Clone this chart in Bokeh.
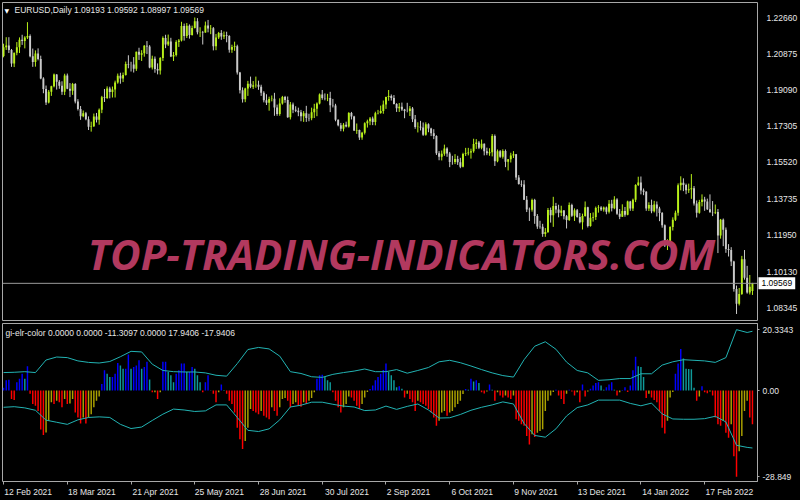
import pandas as pd
from bokeh.plotting import figure
from bokeh.layouts import column
from bokeh.models import (Range1d, LinearAxis, FixedTicker, PrintfTickFormatter,
                          Span, Label, ColumnDataSource)
from bokeh.embed import file_html
from bokeh.resources import INLINE

# ---------------- data ----------------
symbol = "EURUSD"
timeframe = "Daily"
first_date = "2021-02-12"

open_ = [
 1.2077,1.2119,1.2128,1.2106,1.2039,1.2092,1.2119,1.2156,1.2150,1.2168,
 1.2175,1.2075,1.2047,1.2089,1.2062,1.1966,1.1914,1.1847,1.1900,1.1928,
 1.1985,1.1950,1.1930,1.1900,1.1980,1.1915,1.1905,1.1938,1.1852,1.1815,
 1.1780,1.1795,1.1765,1.1728,1.1730,1.1779,1.1762,1.1812,1.1873,1.1869,
 1.1917,1.1899,1.1911,1.1946,1.1979,1.1966,1.1983,1.2037,1.2035,1.2034,
 1.2014,1.2097,1.2082,1.2090,1.2127,1.2123,1.2020,1.2063,1.2013,1.2005,
 1.2066,1.2165,1.2133,1.2148,1.2074,1.2081,1.2145,1.2153,1.2224,1.2175,
 1.2226,1.2180,1.2214,1.2248,1.2193,1.2195,1.2192,1.2227,1.2212,1.2213,
 1.2125,1.2167,1.2190,1.2173,1.2179,1.2175,1.2107,1.2121,1.2125,1.1995,
 1.1908,1.1864,1.1917,1.1940,1.1925,1.1932,1.1935,1.1925,1.1896,1.1858,
 1.1846,1.1865,1.1866,1.1823,1.1791,1.1843,1.1875,1.1860,1.1775,1.1837,
 1.1812,1.1807,1.1800,1.1780,1.1794,1.1771,1.1770,1.1800,1.1817,1.1843,
 1.1887,1.1870,1.1868,1.1870,1.1834,1.1833,1.1762,1.1735,1.1718,1.1738,
 1.1729,1.1796,1.1778,1.1710,1.1712,1.1675,1.1698,1.1745,1.1755,1.1769,
 1.1751,1.1794,1.1796,1.1806,1.1837,1.1875,1.1880,1.1870,1.1840,1.1819,
 1.1826,1.1813,1.1806,1.1805,1.1818,1.1765,1.1727,1.1728,1.1724,1.1689,
 1.1740,1.1719,1.1696,1.1683,1.1597,1.1580,1.1595,1.1621,1.1596,1.1555,
 1.1554,1.1569,1.1553,1.1531,1.1594,1.1597,1.1601,1.1607,1.1643,1.1650,
 1.1624,1.1644,1.1607,1.1598,1.1603,1.1682,1.1558,1.1607,1.1580,1.1609,
 1.1556,1.1568,1.1587,1.1592,1.1478,1.1446,1.1444,1.1368,1.1320,1.1319,
 1.1367,1.1289,1.1237,1.1235,1.1200,1.1210,1.1318,1.1292,1.1338,1.1320,
 1.1304,1.1316,1.1287,1.1269,1.1343,1.1290,1.1317,1.1283,1.1258,1.1288,
 1.1331,1.1239,1.1280,1.1283,1.1328,1.1330,1.1320,1.1330,1.1309,1.1349,
 1.1327,1.1370,1.1300,1.1285,1.1313,1.1295,1.1360,1.1325,1.1368,1.1441,
 1.1454,1.1414,1.1408,1.1325,1.1343,1.1312,1.1345,1.1326,1.1303,1.1243,
 1.1144,1.1145,1.1234,1.1270,1.1305,1.1440,1.1452,1.1441,1.1415,1.1420,
 1.1425,1.1350,1.1305,1.1358,1.1370,1.1360,1.1322,1.1307,1.1306,1.1308,
 1.1193,1.1270,1.1221,1.1126,1.1121,1.1064,1.0929,1.0856,1.0904,1.1075,
 1.0985,1.0912,1.09193]
high = [
 1.2137,1.2169,1.2169,1.2111,1.2093,1.2145,1.2168,1.2181,1.2174,1.2243,
 1.2183,1.2113,1.2104,1.2114,1.2078,1.1972,1.1931,1.1909,1.1930,1.1990,
 1.1987,1.1958,1.1952,1.1989,1.1990,1.1943,1.1944,1.1943,1.1864,1.1830,
 1.1808,1.1801,1.1779,1.1753,1.1793,1.1796,1.1818,1.1880,1.1914,1.1927,
 1.1925,1.1926,1.1955,1.1990,1.1994,1.1995,1.2049,1.2080,1.2048,1.2071,
 1.2098,1.2117,1.2105,1.2130,1.2150,1.2130,1.2078,1.2074,1.2040,1.2071,
 1.2173,1.2181,1.2182,1.2166,1.2096,1.2154,1.2160,1.2245,1.2236,1.2239,
 1.2232,1.2226,1.2266,1.2263,1.2218,1.2200,1.2246,1.2254,1.2229,1.2219,
 1.2185,1.2195,1.2204,1.2197,1.2196,1.2179,1.2132,1.2147,1.2132,1.1998,
 1.1922,1.1920,1.1954,1.1975,1.1953,1.1975,1.1955,1.1935,1.1903,1.1888,
 1.1876,1.1882,1.1895,1.1837,1.1868,1.1880,1.1880,1.1877,1.1850,1.1847,
 1.1829,1.1822,1.1811,1.1805,1.1831,1.1792,1.1822,1.1841,1.1848,1.1892,
 1.1909,1.1892,1.1890,1.1900,1.1865,1.1841,1.1764,1.1747,1.1746,1.1753,
 1.1800,1.1801,1.1782,1.1744,1.1714,1.1703,1.1750,1.1763,1.1776,1.1778,
 1.1802,1.1811,1.1832,1.1857,1.1876,1.1909,1.1887,1.1884,1.1844,1.1845,
 1.1847,1.1816,1.1846,1.1830,1.1825,1.1786,1.1750,1.1757,1.1749,1.1750,
 1.1745,1.1723,1.1716,1.1686,1.1608,1.1611,1.1640,1.1627,1.1604,1.1585,
 1.1593,1.1585,1.1575,1.1600,1.1624,1.1624,1.1620,1.1669,1.1667,1.1658,
 1.1665,1.1646,1.1625,1.1622,1.1692,1.1690,1.1616,1.1613,1.1617,1.1616,
 1.1569,1.1600,1.1608,1.1594,1.1490,1.1464,1.1465,1.1387,1.1330,1.1374,
 1.1373,1.1298,1.1265,1.1250,1.1229,1.1328,1.1330,1.1383,1.1353,1.1344,
 1.1339,1.1318,1.1293,1.1355,1.1349,1.1326,1.1323,1.1303,1.1300,1.1360,
 1.1334,1.1303,1.1306,1.1335,1.1342,1.1337,1.1335,1.1335,1.1367,1.1368,
 1.1386,1.1376,1.1323,1.1346,1.1333,1.1364,1.1363,1.1374,1.1445,1.1482,
 1.1483,1.1424,1.1411,1.1356,1.1369,1.1363,1.1360,1.1334,1.1308,1.1247,
 1.1174,1.1238,1.1282,1.1315,1.1449,1.1484,1.1474,1.1448,1.1448,1.1495,
 1.1436,1.1365,1.1368,1.1395,1.1383,1.1374,1.1395,1.1362,1.1345,1.1323,
 1.1274,1.1276,1.1232,1.1150,1.1135,1.1068,1.0946,1.0934,1.1092,1.1121,
 1.1043,1.0998,1.09592]
low = [
 1.2070,1.2106,1.2091,1.2023,1.2022,1.2080,1.2091,1.2131,1.2114,1.2160,
 1.2070,1.2023,1.2024,1.2055,1.1962,1.1893,1.1835,1.1843,1.1880,1.1922,
 1.1911,1.1915,1.1885,1.1884,1.1913,1.1874,1.1885,1.1843,1.1808,1.1762,
 1.1775,1.1760,1.1712,1.1704,1.1727,1.1749,1.1738,1.1795,1.1850,1.1865,
 1.1868,1.1872,1.1872,1.1940,1.1940,1.1948,1.1980,1.2016,1.2000,1.1995,
 1.2003,1.2057,1.2052,1.2073,1.2086,1.2016,1.2010,1.1994,1.1986,1.1985,
 1.2052,1.2115,1.2126,1.2071,1.2052,1.2074,1.2121,1.2148,1.2152,1.2165,
 1.2162,1.2177,1.2212,1.2183,1.2170,1.2133,1.2191,1.2193,1.2184,1.2104,
 1.2105,1.2160,1.2156,1.2160,1.2144,1.2093,1.2092,1.2102,1.1985,1.1892,
 1.1847,1.1849,1.1880,1.1918,1.1914,1.1920,1.1910,1.1880,1.1848,1.1835,
 1.1807,1.1853,1.1782,1.1782,1.1782,1.1837,1.1846,1.1772,1.1764,1.1795,
 1.1800,1.1780,1.1755,1.1752,1.1752,1.1755,1.1760,1.1771,1.1780,1.1838,
 1.1861,1.1858,1.1854,1.1800,1.1823,1.1755,1.1730,1.1706,1.1705,1.1725,
 1.1724,1.1764,1.1707,1.1693,1.1663,1.1664,1.1690,1.1724,1.1736,1.1736,
 1.1735,1.1789,1.1792,1.1792,1.1816,1.1856,1.1857,1.1838,1.1801,1.1801,
 1.1806,1.1770,1.1799,1.1781,1.1751,1.1718,1.1700,1.1710,1.1683,1.1684,
 1.1701,1.1682,1.1667,1.1589,1.1563,1.1562,1.1585,1.1580,1.1529,1.1541,
 1.1544,1.1540,1.1524,1.1528,1.1584,1.1587,1.1571,1.1600,1.1619,1.1618,
 1.1617,1.1587,1.1588,1.1585,1.1582,1.1535,1.1553,1.1575,1.1571,1.1529,
 1.1513,1.1552,1.1574,1.1466,1.1443,1.1432,1.1367,1.1308,1.1264,1.1310,
 1.1250,1.1225,1.1226,1.1186,1.1186,1.1205,1.1256,1.1235,1.1302,1.1282,
 1.1288,1.1272,1.1227,1.1264,1.1284,1.1264,1.1280,1.1252,1.1222,1.1285,
 1.1232,1.1236,1.1261,1.1269,1.1305,1.1313,1.1310,1.1297,1.1301,1.1311,
 1.1322,1.1294,1.1273,1.1284,1.1285,1.1292,1.1314,1.1313,1.1357,1.1436,
 1.1395,1.1391,1.1314,1.1313,1.1302,1.1306,1.1286,1.1263,1.1231,1.1136,
 1.1121,1.1140,1.1217,1.1264,1.1290,1.1415,1.1411,1.1396,1.1402,1.1373,
 1.1340,1.1281,1.1300,1.1336,1.1314,1.1318,1.1305,1.1288,1.1298,1.1106,
 1.1177,1.1140,1.1107,1.1089,1.1042,1.0916,1.0806,1.0848,1.0900,1.0975,
 1.0906,1.0902,1.08997]
close = [
 1.2119,1.2128,1.2106,1.2039,1.2092,1.2119,1.2156,1.2150,1.2168,1.2175,
 1.2075,1.2047,1.2089,1.2062,1.1966,1.1914,1.1847,1.1900,1.1928,1.1985,
 1.1950,1.1930,1.1900,1.1980,1.1915,1.1905,1.1938,1.1852,1.1815,1.1780,
 1.1795,1.1765,1.1728,1.1730,1.1779,1.1762,1.1812,1.1873,1.1869,1.1917,
 1.1899,1.1911,1.1946,1.1979,1.1966,1.1983,1.2037,1.2035,1.2034,1.2014,
 1.2097,1.2082,1.2090,1.2127,1.2123,1.2020,1.2063,1.2013,1.2005,1.2066,
 1.2165,1.2133,1.2148,1.2074,1.2081,1.2145,1.2153,1.2224,1.2175,1.2226,
 1.2180,1.2214,1.2248,1.2193,1.2195,1.2192,1.2227,1.2212,1.2213,1.2125,
 1.2167,1.2190,1.2173,1.2179,1.2175,1.2107,1.2121,1.2125,1.1995,1.1908,
 1.1864,1.1917,1.1940,1.1925,1.1932,1.1935,1.1925,1.1896,1.1858,1.1846,
 1.1865,1.1866,1.1823,1.1791,1.1843,1.1875,1.1860,1.1775,1.1837,1.1812,
 1.1807,1.1800,1.1780,1.1794,1.1771,1.1770,1.1800,1.1817,1.1843,1.1887,
 1.1870,1.1868,1.1870,1.1834,1.1833,1.1762,1.1735,1.1718,1.1738,1.1729,
 1.1796,1.1778,1.1710,1.1712,1.1675,1.1698,1.1745,1.1755,1.1769,1.1751,
 1.1794,1.1796,1.1806,1.1837,1.1875,1.1880,1.1870,1.1840,1.1819,1.1826,
 1.1813,1.1806,1.1805,1.1818,1.1765,1.1727,1.1728,1.1724,1.1689,1.1740,
 1.1719,1.1696,1.1683,1.1597,1.1580,1.1595,1.1621,1.1596,1.1555,1.1554,
 1.1569,1.1553,1.1531,1.1594,1.1597,1.1601,1.1607,1.1643,1.1650,1.1624,
 1.1644,1.1607,1.1598,1.1603,1.1682,1.1558,1.1607,1.1580,1.1609,1.1556,
 1.1568,1.1587,1.1592,1.1478,1.1446,1.1444,1.1368,1.1320,1.1319,1.1367,
 1.1289,1.1237,1.1235,1.1200,1.1210,1.1318,1.1292,1.1338,1.1320,1.1304,
 1.1316,1.1287,1.1269,1.1343,1.1290,1.1317,1.1283,1.1258,1.1288,1.1331,
 1.1239,1.1280,1.1283,1.1328,1.1330,1.1320,1.1330,1.1309,1.1349,1.1327,
 1.1370,1.1300,1.1285,1.1313,1.1295,1.1360,1.1325,1.1368,1.1441,1.1454,
 1.1414,1.1408,1.1325,1.1343,1.1312,1.1345,1.1326,1.1303,1.1243,1.1144,
 1.1145,1.1234,1.1270,1.1305,1.1440,1.1452,1.1441,1.1415,1.1420,1.1425,
 1.1350,1.1305,1.1358,1.1370,1.1360,1.1322,1.1307,1.1306,1.1308,1.1193,
 1.1270,1.1221,1.1126,1.1121,1.1064,1.0929,1.0856,1.0904,1.1075,1.0985,
 1.0912,1.0940,1.09569]

price_ticks = [1.08345, 1.10130, 1.11950, 1.13735, 1.15520, 1.17305, 1.19090, 1.20875, 1.22660]

date_labels = ["12 Feb 2021", "18 Mar 2021", "21 Apr 2021", "25 May 2021", "28 Jun 2021",
               "30 Jul 2021", "2 Sep 2021", "6 Oct 2021", "9 Nov 2021", "13 Dec 2021",
               "14 Jan 2022", "17 Feb 2022"]

indicator_name = "gi-elr-color"
indicator_buffers = ["0.0000", "0.0000", "-11.3097", "0.0000", "17.9406", "-17.9406"]

hist = [
 0.9,3.4,3.6,-2.8,-3.2,2.8,3.9,5.6,3.9,8.1,
 -1.1,-4.5,-5.1,-6.8,-13.0,-14.9,-14.0,-10.2,-3.9,-4.5,
 -3.4,-3.9,-5.6,-2.8,-4.5,-4.3,-2.8,-7.3,-9.0,-11.0,
 -9.0,-11.0,-9.0,-7.9,-5.6,-3.4,-2.0,2.2,6.8,5.6,
 4.5,4.5,5.6,9.2,8.4,7.3,7.3,12.0,7.3,7.9,
 8.4,10.1,7.3,7.9,9.6,3.7,-0.6,-0.6,-2.8,-0.6,
 9.6,9.6,6.2,5.1,2.8,5.6,6.8,9.0,9.0,6.2,
 6.2,7.9,7.3,5.1,2.8,-0.6,2.8,5.1,0.1,-1.1,
 -3.9,-0.6,2.0,0.2,-1.1,-3.4,-4.5,-7.3,-12.4,-16.3,
 -19.5,-16.9,-12.4,-6.2,-6.8,-7.3,-7.9,-6.8,-8.4,-9.0,
 -9.6,-5.6,-6.8,-8.4,-5.6,-2.8,-2.5,-3.4,-5.6,-4.5,
 -3.9,-5.1,-5.4,-3.9,-4.5,-3.4,-2.5,-0.6,3.9,5.1,
 5.3,4.5,3.4,2.8,-0.6,-3.4,-5.6,-7.3,-5.6,-4.5,
 -2.0,-2.3,-3.4,-5.1,-6.2,-4.5,-2.3,-0.5,0.5,1.7,
 3.4,4.5,5.6,6.9,9.0,6.2,5.1,3.4,1.1,1.4,
 0.6,-2.3,-1.1,-2.8,-3.9,-6.8,-3.4,-3.9,-4.5,-5.1,
 -6.2,-7.3,-9.0,-11.8,-10.1,-7.3,-6.8,-8.4,-7.3,-6.8,
 -5.6,-4.5,-3.4,-1.2,0.5,0.3,3.9,3.0,3.4,2.5,
 -0.6,-1.0,-0.3,2.0,0.3,-3.4,-0.6,-1.7,-2.3,-1.7,
 -2.3,-2.8,-1.7,-9.6,-10.1,-11.3,-11.8,-15.2,-18.0,-14.6,
 -15.5,-14.1,-13.5,-12.9,-6.8,-3.4,-1.7,-0.5,0.3,-1.7,
 -2.8,-4.5,-1.1,0.3,-0.3,-1.7,-0.6,-3.9,2.0,-2.0,
 -0.3,0.6,1.7,2.5,2.8,1.7,0.3,1.1,2.0,2.8,
 0.3,-1.7,-0.6,0.2,1.1,-0.5,1.7,6.8,11.3,8.1,
 7.9,4.5,-2.5,-1.1,-2.3,-3.2,-3.9,-6.8,-12.4,-14.4,
 -10.1,-2.3,-0.5,5.6,9.0,13.9,10.7,7.3,7.2,7.1,
 0.9,-3.4,-2.0,1.4,-0.6,-0.9,-0.3,-1.7,-9.0,-11.3,
 -11.8,-10.1,-14.1,-15.8,-11.3,-22.0,-28.849,-20.3,-15.2,-6.8,
 -3.4,-9.0,-11.3097]

band_step = 4  # band values read every 4th bar, plus the last bar
upper_band = [
 6.0,6.1,6.3,6.0,10.2,11.2,11.0,9.9,9.4,9.2,9.7,11.3,13.1,12.9,8.8,6.7,6.3,6.2,
 6.2,5.9,5.1,4.8,9.0,13.7,14.4,13.9,11.5,6.3,5.7,4.6,4.4,5.4,6.0,6.5,7.2,6.3,
 6.3,7.0,5.8,6.7,7.7,9.6,10.1,9.3,8.2,7.0,5.9,5.0,4.5,10.3,14.8,16.3,13.8,9.5,
 6.7,5.9,3.4,3.6,4.0,4.0,5.6,5.6,8.5,9.6,10.3,10.1,9.9,9.4,11.0,20.3343,19.4,19.8]
lower_band = [
 -5.6,-5.4,-5.8,-6.6,-9.9,-10.6,-11.3,-9.8,-9.0,-8.8,-9.0,-11.3,-12.7,-12.2,-10.0,-7.9,-6.2,-6.5,
 -7.0,-6.8,-4.8,-4.8,-9.0,-13.3,-13.7,-12.8,-9.8,-5.5,-4.9,-3.9,-3.9,-4.6,-5.2,-5.5,-6.7,-6.5,
 -5.2,-6.3,-5.3,-4.5,-6.5,-9.2,-9.1,-8.0,-6.6,-5.6,-4.8,-3.8,-4.5,-11.0,-15.0,-15.6,-12.8,-8.5,
 -5.7,-4.8,-3.2,-3.2,-3.2,-4.3,-5.1,-4.2,-7.8,-9.5,-9.6,-9.6,-9.4,-8.6,-10.5,-18.3,-19.0,-19.2]

indicator_ticks = [20.3343, 0, -28.849]
indicator_tick_text = ["20.3343", "0.00", "-28.849"]
watermark = "TOP-TRADING-INDICATORS.COM"

# ---------------- styling ----------------
FONT = "Liberation Sans"
FS = "8.5px"
TXT = "#e6e6e6"
FRAME = "#a8a8a8"
BULL = "#b8f01a"
BEAR = "#cacaca"
W, FRAME_W, LB, RB = 800, 755, 2, 43
H1_FRAME, H2_FRAME = 318, 158

n = len(close)
dates = pd.bdate_range(first_date, periods=n)
xs = list(range(n))
x_range = Range1d(-0.4, 283.9)
px_per_bar = FRAME_W / (283.9 + 0.4)

# ---------------- price panel ----------------
p1 = figure(width=W, height=2 + H1_FRAME + 1, x_range=x_range,
            y_range=Range1d(1.07739, 1.23399), x_axis_type=None, y_axis_type=None,
            output_backend="svg", toolbar_location=None,
            background_fill_color="black", border_fill_color="black",
            min_border_left=LB, min_border_right=RB, min_border_top=2, min_border_bottom=1)
p1.outline_line_color = FRAME
p1.xgrid.visible = False
p1.ygrid.visible = False

up = [c > o for o, c in zip(open_, close)]
src = ColumnDataSource(dict(
    x=xs, o=open_, h=high, l=low, c=close,
    top=[max(o, c) for o, c in zip(open_, close)],
    bot=[min(o, c) for o, c in zip(open_, close)],
    col=[BULL if u else BEAR for u in up]))
p1.segment(x0="x", y0="l", x1="x", y1="h", line_color="col", line_width=1, source=src)
p1.vbar(x="x", top="top", bottom="bot", width=0.72, fill_color="col", line_color=None, source=src)

p1.add_layout(Span(location=close[-1], dimension="width", line_color="#9a9a9a", line_width=1))

# current-price box in the right side panel (next to the frame)
p1.add_layout(Label(x=1, y=close[-1], x_units="screen", y_units="data",
                    text=f"{close[-1]:.5f}", text_font=FONT, text_font_size=FS,
                    text_color="black", text_align="left", text_baseline="middle",
                    background_fill_color="white", padding=3), "right")

# price scale: outer panel, labels pulled back inward over the box panel
ax1 = LinearAxis(ticker=FixedTicker(ticks=price_ticks), formatter=PrintfTickFormatter(format="%.5f"),
                 major_tick_in=0, major_tick_out=0, major_tick_line_color=None,
                 minor_tick_line_color=None, axis_line_color=None, major_label_standoff=-28,
                 major_label_text_font=FONT, major_label_text_font_size=FS,
                 major_label_text_color=TXT)
p1.add_layout(ax1, "right")

p1.add_layout(Label(x=2, y=H1_FRAME - 8, x_units="screen", y_units="screen", text="\u25bc",
                    text_font="DejaVu Sans", text_font_size="6px", text_color="white",
                    text_baseline="middle"))
p1.add_layout(Label(x=12, y=H1_FRAME - 7, x_units="screen", y_units="screen",
                    text=f"{symbol},{timeframe}  {open_[-1]:.5f} {high[-1]:.5f} {low[-1]:.5f} {close[-1]:.5f}",
                    text_font=FONT, text_font_size=FS, text_color=TXT, text_baseline="middle"))

p1.add_layout(Label(x=399, y=67, x_units="screen", y_units="screen", text=watermark,
                    text_font="Open Sans", text_font_style="bold italic", text_font_size="42px",
                    text_color="#b2395f", text_align="center", text_baseline="middle"))

# ---------------- indicator panel ----------------
p2 = figure(width=W, height=2 + H2_FRAME + 19, x_range=x_range,
            y_range=Range1d(-30.4, 22.4), x_axis_type=None, y_axis_type=None,
            output_backend="svg", toolbar_location=None,
            background_fill_color="black", border_fill_color="black",
            min_border_left=LB, min_border_right=RB, min_border_top=2, min_border_bottom=19)
p2.outline_line_color = FRAME
p2.xgrid.visible = False
p2.ygrid.visible = False

cols = []
prev = 0.0
for v in hist:
    if v >= 0:
        cols.append("#0000ff" if v >= prev else "#0f9a9a")
    else:
        cols.append("#ff0000" if v < prev else "#aca200")
    prev = v
hsrc = ColumnDataSource(dict(x=xs, top=hist, col=cols))
p2.vbar(x="x", top="top", bottom=0, width=0.55, fill_color="col", line_color=None, source=hsrc)

band_x = list(range(0, n, band_step)) + [n - 1]
p2.line(band_x, upper_band, line_color="#22b3b3", line_width=1)
p2.line(band_x, lower_band, line_color="#22b3b3", line_width=1)

ax2 = LinearAxis(ticker=FixedTicker(ticks=indicator_ticks),
                 major_label_overrides=dict(zip(indicator_ticks, indicator_tick_text)),
                 major_tick_in=0, major_tick_out=2, major_tick_line_color=FRAME,
                 minor_tick_line_color=None, axis_line_color=FRAME, major_label_standoff=3,
                 major_label_text_font=FONT, major_label_text_font_size=FS,
                 major_label_text_color=TXT)
p2.add_layout(ax2, "right")

label_pos = [int(dates.get_loc(pd.to_datetime(s, format="%d %b %Y"))) for s in date_labels]
tick_axis = LinearAxis(ticker=FixedTicker(ticks=label_pos),
                       major_label_overrides={pp: "" for pp in label_pos},
                       major_tick_in=0, major_tick_out=3, major_tick_line_color=FRAME,
                       minor_tick_line_color=None, axis_line_color=None,
                       major_label_standoff=0, major_label_text_font_size="1px")
p2.add_layout(tick_axis, "below")
centers = [round(pp + (len(s) * 4.3 / 2 + 1) / px_per_bar, 3) for pp, s in zip(label_pos, date_labels)]
lab_axis = LinearAxis(ticker=FixedTicker(ticks=centers),
                      major_label_overrides=dict(zip(centers, date_labels)),
                      major_tick_in=0, major_tick_out=0, major_tick_line_color=None,
                      minor_tick_line_color=None, axis_line_color=None, major_label_standoff=2,
                      major_label_text_font=FONT, major_label_text_font_size=FS,
                      major_label_text_color=TXT)
p2.add_layout(lab_axis, "below")

p2.add_layout(Label(x=3, y=H2_FRAME - 9, x_units="screen", y_units="screen",
                    text=indicator_name + " " + " ".join(indicator_buffers),
                    text_font=FONT, text_font_size=FS, text_color=TXT, text_baseline="middle"))

layout = column(p1, p2, spacing=0, background="black")
open("out.html", "w").write(file_html(layout, INLINE))
